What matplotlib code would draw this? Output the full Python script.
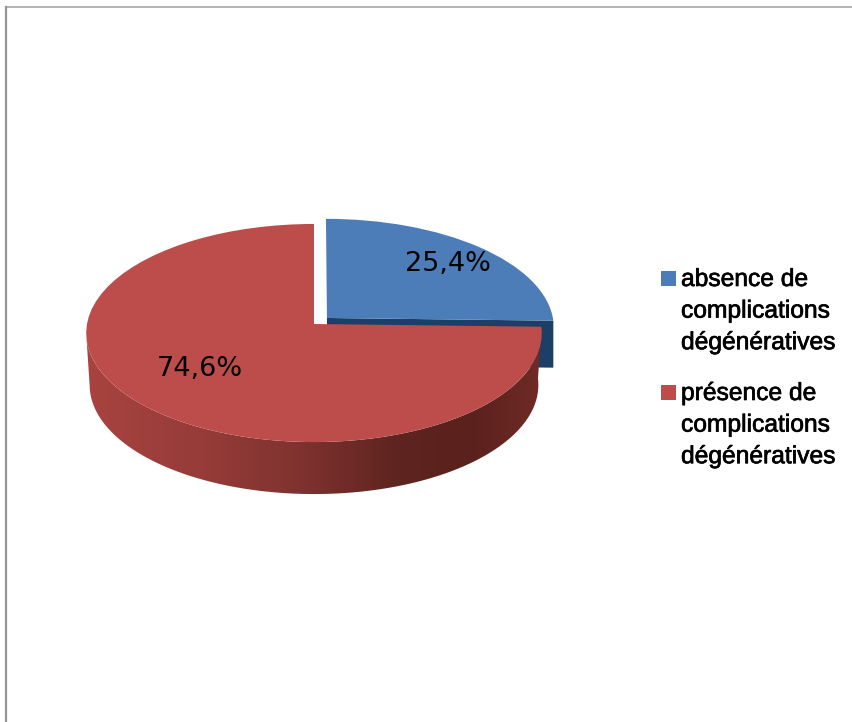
import matplotlib
matplotlib.use('Agg')
import matplotlib.pyplot as plt
import matplotlib.patheffects as pe
import numpy as np
from matplotlib.patches import Polygon, Rectangle
from matplotlib.transforms import Transform

names = ['absence de\ncomplications\ndégénératives', 'présence de\ncomplications\ndégénératives']
values = [25.4, 74.6]
colors = ['#4C7DB9', '#BC4D4A']
wall_blue = '#1B3F66'

# shading of the red rim, left to right (pixel x, colour)
shade_x = [90, 200, 300, 400, 470, 535]
shade_r = [168, 150, 127, 94, 90, 110]
shade_g = [67, 60, 50, 36, 33, 42]
shade_b = [63, 57, 47, 31, 29, 37]


# tilted view of the unit pie, gives picture pixels
class Tilt(Transform):
    input_dims = 2
    output_dims = 2
    k = 0.0826

    def transform_non_affine(self, xy):
        xy = np.asarray(xy, dtype=float)
        w = 1 + self.k * xy[:, 1]
        return np.column_stack([314 + 227 * xy[:, 0] / w, 324 - 108.3 * xy[:, 1] / w])


tilt = Tilt()

fig = plt.figure(figsize=(8.53, 7.22), dpi=100)
ax = fig.add_axes([0, 0, 1, 1])
wedges, _ = ax.pie(values, colors=colors, startangle=90, counterclock=False,
                   explode=[0.08, 0])

for w, z in zip(wedges, [3, 6]):
    w.set_transform(tilt + ax.transData)
    w.set_zorder(z)
    w.set_linewidth(0)

# blue side face, seen under the straight edge
depth = 47
t_end = np.radians(wedges[0].theta1)
blue = np.array([[0.0573, 0.0559],
                 [0.0573 + np.cos(t_end), 0.0559 + np.sin(t_end)]])
blue = tilt.transform_non_affine(blue)
ax.fill([blue[0, 0], blue[1, 0], blue[1, 0], blue[0, 0]],
        [blue[0, 1], blue[1, 1], blue[1, 1] + depth, blue[0, 1] + depth],
        color=wall_blue, lw=0, zorder=2)

# red rim, a horizontal colour ramp cut to the shape of the rim
depth = 52
angles = np.radians(np.linspace(-175, wedges[1].theta2, 180))
rim = tilt.transform_non_affine(np.column_stack([np.cos(angles), np.sin(angles)]))
low = rim.copy()
low[:, 0] = 314 + (rim[:, 0] - 314) * 0.985
low[:, 1] = rim[:, 1] + depth
xs = np.arange(80, 550)
ramp = np.column_stack([np.interp(xs, shade_x, s) / 255 for s in (shade_r, shade_g, shade_b)])
im = ax.imshow(ramp[np.newaxis, :, :], extent=[80, 550, 510, 310], aspect='auto', zorder=5)
outline = Polygon(np.vstack([rim, low[::-1]]), closed=True, transform=ax.transData)
im.set_clip_path(outline)

ax.set_aspect('auto')
ax.set_xlim(0, 853)
ax.set_ylim(722, 0)
ax.axis('off')

# value labels
labels = [('%.1f%%' % v).replace('.', ',') for v in values]
ax.text(448, 264, labels[0], fontsize=19.5, family='DejaVu Sans', ha='center', va='center', zorder=8)
ax.text(200, 369, labels[1], fontsize=19.5, family='DejaVu Sans', ha='center', va='center', zorder=8)

# legend
for name, col, y in zip(names, colors, [267, 381]):
    ax.add_patch(Rectangle((661, y + 4), 15, 15, color=col, lw=0, zorder=8))
    t = ax.text(681, y, name, fontsize=17.7, family='Liberation Sans', va='top',
                linespacing=1.4, color='black', zorder=8)
    t.set_path_effects([pe.withStroke(linewidth=0.5, foreground='black')])

# frame, only top and left are in the picture
ax.plot([6, 853], [7, 7], color='#A6A6A6', lw=1.2, zorder=9)
ax.plot([6, 6], [7, 722], color='#969696', lw=1.6, zorder=9)

fig.savefig('out.png', dpi=100)
